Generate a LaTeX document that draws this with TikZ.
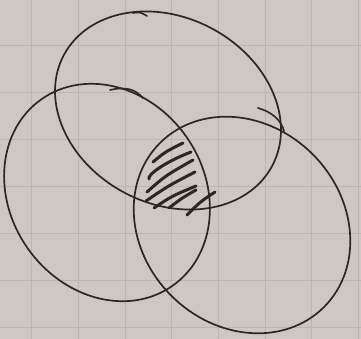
\documentclass[tikz,border=0pt]{standalone}
\begin{document}
\begin{tikzpicture}[x=1pt,y=-1pt,
  ink/.style={draw=inkc,line width=1.7pt},
  hatchline/.style={draw=inkc,line width=3pt,line cap=round},
  penmark/.style={draw=inkc,line width=1.6pt,line cap=round},
  gridline/.style={draw=gridc,line width=0.9pt}]
\definecolor{paperc}{HTML}{CDC8C3}
\definecolor{gridc}{HTML}{BCB6B0}
\definecolor{inkc}{HTML}{2C2724}
\useasboundingbox (0,0) rectangle (361,339);
\fill[paperc] (0,0) rectangle (361,339);
% grid paper
\foreach \gx in {31.7,78.3,125,171.6,218.3,265,311.6,358.3}
  \draw[gridline] (\gx,0) -- (\gx,339);
\foreach \gy in {45,92,139,186,233,280,327}
  \draw[gridline] (0,\gy) -- (361,\gy);
% the three sets
\coordinate (ca) at (168,110.5);
\coordinate (cb) at (107,192.5);
\coordinate (cc) at (242,225);
\draw[ink,rotate around={-28:(ca)}] (ca) ellipse [x radius=118, y radius=93];
\draw[ink,rotate around={-55:(cb)}] (cb) ellipse [x radius=114, y radius=97];
\draw[ink,rotate around={-45:(cc)}] (cc) ellipse [x radius=116, y radius=100];
% pen overlaps where strokes started
\draw[penmark] (133,13) .. controls (140,12) .. (147,16);
\draw[penmark] (110,90) .. controls (127,86) and (136,90) .. (143,98);
\draw[penmark] (258,108) .. controls (272,112) and (281,120) .. (284,131);
% hatching of the common part
\draw[hatchline] (153,162) .. controls (165,152) .. (183,143);
\draw[hatchline] (149,179) .. controls (147,175) and (165,162) .. (191,152);
\draw[hatchline] (147,192) .. controls (165,176) .. (193,160);
\draw[hatchline] (146,201) .. controls (168,186) .. (195,172);
\draw[hatchline] (154,208) .. controls (172,196) .. (196,186);
\draw[hatchline] (169,208) .. controls (182,198) .. (196,190);
\draw[hatchline] (187,215) .. controls (200,202) .. (215,192);
\end{tikzpicture}
\end{document}
